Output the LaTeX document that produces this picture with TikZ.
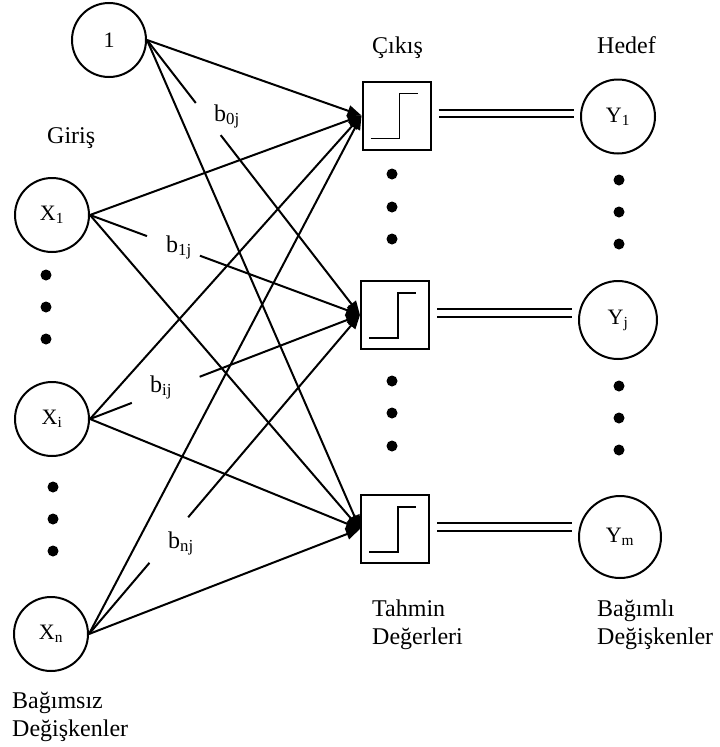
\documentclass[tikz,border=0pt]{standalone}
\usepackage{fontspec}
\setmainfont{Liberation Serif}
\usetikzlibrary{arrows.meta,calc}
\newcommand\stepglyph[1]{\draw[stepl] ([xshift=-26pt,yshift=-23pt]#1.center) -| ([xshift=3pt,yshift=22pt]#1.center) -- ([xshift=21pt,yshift=22pt]#1.center);}
\begin{document}
\begin{tikzpicture}[x=1pt,y=-1pt,
  unit/.style={circle,draw,line width=2pt,minimum size=74pt,inner sep=0pt,font=\fontsize{22}{26}\selectfont},
  outbox/.style={draw,line width=2pt,minimum size=68pt,inner sep=0pt},
  stepl/.style={line width=1.8pt},
  conn/.style={line width=2pt},
  arr/.style={conn,-{Triangle[length=14pt,width=11pt]}},
  dbl/.style={double,double distance=5.3pt,line width=2pt},
  lab/.style={anchor=base west,inner sep=0pt,font=\fontsize{24}{28}\selectfont},
  dot/.style={circle,fill,inner sep=0pt,minimum size=11pt}]
\useasboundingbox (0,0) rectangle (720,747);

% input units
\node[unit] (one) at (109,40) {1};
\node[unit] (x1) at (52,215) {X\textsubscript{1}};
\node[unit] (xi) at (52,419) {X\textsubscript{i}};
\node[unit] (xn) at (51,634) {X\textsubscript{n}};

% output boxes
\node[outbox] (b1) at (396.5,115.5) {};
\node[outbox] (b2) at (395,315) {};
\node[outbox] (b3) at (395,529) {};
\stepglyph{b1}
\stepglyph{b2}
\stepglyph{b3}

% targets
\node[unit,minimum size=74pt] (y1) at (618,116.5) {Y\textsubscript{1}};
\node[unit,minimum size=78pt] (yj) at (618,320) {Y\textsubscript{j}};
\node[unit,minimum size=82pt] (ym) at (620,537) {Y\textsubscript{m}};

% dots
\node[dot] (d1) at (46,275) {};
\node[dot] (d2) at (46,307) {};
\node[dot] (d3) at (46,339) {};
\node[dot] (d4) at (53,487) {};
\node[dot] (d5) at (53,519) {};
\node[dot] (d6) at (53,551) {};
\node[dot] (d7) at (392,174) {};
\node[dot] (d8) at (392,207) {};
\node[dot] (d9) at (392,239) {};
\node[dot] (d10) at (392,381) {};
\node[dot] (d11) at (392,413) {};
\node[dot] (d12) at (392,446) {};
\node[dot] (d13) at (619,180) {};
\node[dot] (d14) at (619,212) {};
\node[dot] (d15) at (619,244) {};
\node[dot] (d16) at (619,386) {};
\node[dot] (d17) at (619,418) {};
\node[dot] (d18) at (619,450) {};

% labels
\node[lab] (lgiris) at (47,143) {Giriş};
\node[lab] (lcikis) at (372,53) {Çıkış};
\node[lab] (lhedef) at (597,53) {Hedef};
\node[lab] (lt1) at (372,616) {Tahmin};
\node[lab] (lt2) at (372,644) {Değerleri};
\node[lab] (lh1) at (597,616) {Bağımlı};
\node[lab] (lh2) at (597,644) {Değişkenler};
\node[lab] (lg1) at (12,708) {Bağımsız};
\node[lab] (lg2) at (12,736) {Değişkenler};
\node[lab] (w0) at (214,121) {b\textsubscript{0j}};
\node[lab] (w1) at (166,252) {b\textsubscript{1j}};
\node[lab] (wi) at (150,392) {b\textsubscript{ij}};
\node[lab] (wn) at (168,548) {b\textsubscript{nj}};

% connectors
\draw[arr] (one.east) -- (b1.west);
\draw[conn] (one.east) -- ($(one.east)!0.229!(b2.west)$);
\draw[arr] ($(one.east)!0.346!(b2.west)$) -- (b2.west);
\draw[arr] (one.east) -- (b3.west);

\draw[arr] (x1.east) -- (b1.west);
\draw[conn] (x1.east) -- ($(x1.east)!0.211!(b2.west)$);
\draw[arr] ($(x1.east)!0.407!(b2.west)$) -- (b2.west);
\draw[arr] (x1.east) -- (b3.west);

\draw[arr] (xi.east) -- (b1.west);
\draw[conn] (xi.east) -- ($(xi.east)!0.155!(b2.west)$);
\draw[arr] ($(xi.east)!0.406!(b2.west)$) -- (b2.west);
\draw[arr] (xi.east) -- (b3.west);

\draw[arr] (xn.east) -- (b1.west);
\draw[conn] (xn.east) -- ($(xn.east)!0.223!(b2.west)$);
\draw[arr] ($(xn.east)!0.366!(b2.west)$) -- (b2.west);
\draw[arr] (xn.east) -- (b3.west);

% double lines
\coordinate (e1) at (b1.east -| y1.west);
\coordinate (e2) at (b2.east -| yj.west);
\coordinate (e3) at (b3.east -| ym.west);
\draw[dbl] ([xshift=7pt,yshift=2pt]b1.east) -- ([xshift=-6pt,yshift=2pt]e1);
\draw[dbl] ([xshift=7pt,yshift=2pt]b2.east) -- ([xshift=-6pt,yshift=2pt]e2);
\draw[dbl] ([xshift=7pt,yshift=2pt]b3.east) -- ([xshift=-6pt,yshift=2pt]e3);
\end{tikzpicture}
\end{document}
